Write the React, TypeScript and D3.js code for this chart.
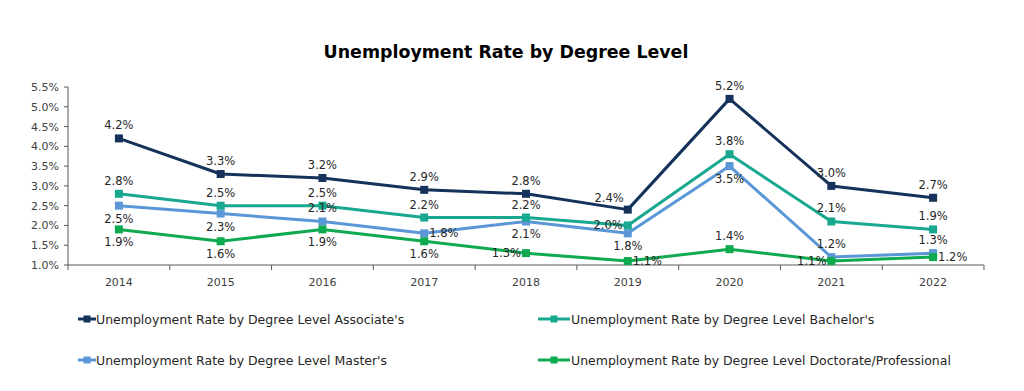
import React from "react";
import * as d3 from "d3";

const years = ["2014", "2015", "2016", "2017", "2018", "2019", "2020", "2021", "2022"];
const associates = [4.2, 3.3, 3.2, 2.9, 2.8, 2.4, 5.2, 3.0, 2.7];
const bachelors = [2.8, 2.5, 2.5, 2.2, 2.2, 2.0, 3.8, 2.1, 1.9];
const masters = [2.5, 2.3, 2.1, 1.8, 2.1, 1.8, 3.5, 1.2, 1.3];
const doctorate = [1.9, 1.6, 1.9, 1.6, 1.3, 1.1, 1.4, 1.1, 1.2];
const yTicks = [1.0, 1.5, 2.0, 2.5, 3.0, 3.5, 4.0, 4.5, 5.0, 5.5];
const seriesNames = [
  "Unemployment Rate by Degree Level Associate's",
  "Unemployment Rate by Degree Level Bachelor's",
  "Unemployment Rate by Degree Level Master's",
  "Unemployment Rate by Degree Level Doctorate/Professional",
];

// label placement (style): t=above, b=below, l=left, r=right, tl=above-left
const placeA = ["t", "t", "t", "t", "t", "tl", "t", "t", "t"];
const placeB = ["t", "t", "t", "t", "t", "l", "t", "t", "t"];
const placeM = ["b", "b", "t", "r", "b", "b", "b", "t", "t"];
const placeD = ["b", "b", "b", "b", "l", "r", "t", "l", "r"];

const colors = ["#14325A", "#17A88F", "#5B97D6", "#0FAA4F"];

const W = 1024, H = 391;
const m = { left: 68 };
const font = "'DejaVu Sans', sans-serif";

export default function App() {
  const x = d3.scaleBand().domain(years).range([m.left, 984]).paddingInner(0).paddingOuter(0);
  const y = d3.scaleLinear().domain([1.0, 5.5]).range([265, 87]);
  const line = d3.line<number>().x((_, i) => (x(years[i]) as number) + x.bandwidth() / 2).y((d) => y(d));

  const data = [associates, bachelors, masters, doctorate];
  const places = [placeA, placeB, placeM, placeD];
  const order = [2, 3, 1, 0];

  const labelPos = (cx: number, cy: number, p: string) => {
    if (p === "t") return { x: cx, y: cy - 9, anchor: "middle" };
    if (p === "tl") return { x: cx - 4, y: cy - 8, anchor: "end" };
    if (p === "b") return { x: cx, y: cy + 17, anchor: "middle" };
    if (p === "l") return { x: cx - 5, y: cy + 4, anchor: "end" };
    return { x: cx + 5, y: cy + 4, anchor: "start" };
  };

  return (
    <svg width={W} height={H} style={{ position: "absolute", left: 0, top: 0, background: "#fff" }}>
      <rect width={W} height={H} fill="#fff" />
      <text x={506} y={58} textAnchor="middle" fontFamily={font} fontWeight="bold" fontSize={17.4} fill="#000">
        Unemployment Rate by Degree Level
      </text>
      <line x1={m.left} x2={m.left} y1={y(5.5)} y2={y(1.0)} stroke="#595959" strokeWidth={1} />
      {yTicks.map((t) => (
        <g key={t}>
          <line x1={m.left - 4} x2={m.left} y1={y(t)} y2={y(t)} stroke="#595959" />
          <text x={m.left - 9} y={y(t) + 4} textAnchor="end" fontFamily={font} fontSize={11} fill="#404040">
            {t.toFixed(1) + "%"}
          </text>
        </g>
      ))}
      <line x1={m.left} x2={984} y1={y(1.0)} y2={y(1.0)} stroke="#595959" />
      {years.map((yr) => (
        <g key={yr}>
          <line x1={x(yr) as number} x2={x(yr) as number} y1={y(1.0)} y2={y(1.0) + 5} stroke="#595959" />
          <text x={(x(yr) as number) + x.bandwidth() / 2} y={286} textAnchor="middle" fontFamily={font} fontSize={11} fill="#404040">
            {yr}
          </text>
        </g>
      ))}
      <line x1={984} x2={984} y1={y(1.0)} y2={y(1.0) + 5} stroke="#595959" />
      {order.map((s) => (
        <g key={s}>
          <path d={line(data[s]) as string} fill="none" stroke={colors[s]} strokeWidth={3} strokeLinejoin="round" />
          {data[s].map((v, i) => {
            const cx = (x(years[i]) as number) + x.bandwidth() / 2;
            return <rect key={i} x={cx - 4} y={y(v) - 4} width={8} height={8} fill={colors[s]} />;
          })}
        </g>
      ))}
      {order.map((s) => (
        <g key={"l" + s}>
          {data[s].map((v, i) => {
            const cx = (x(years[i]) as number) + x.bandwidth() / 2;
            const p = labelPos(cx, y(v), places[s][i]);
            return (
              <text key={i} x={p.x} y={p.y} textAnchor={p.anchor as any} fontFamily={font} fontSize={11.5} fill="#262626">
                {v.toFixed(1) + "%"}
              </text>
            );
          })}
        </g>
      ))}
      {seriesNames.map((n, s) => {
        const left = s % 2 === 0;
        const lx = left ? 78 : 538;
        const lw = left ? 18 : 32;
        const ly = s < 2 ? 319 : 360;
        return (
          <g key={n}>
            <line x1={lx} x2={lx + lw} y1={ly} y2={ly} stroke={colors[s]} strokeWidth={3} />
            <rect x={lx + lw / 2 - 3.5} y={ly - 3.5} width={7} height={7} fill={colors[s]} />
            <text x={left ? 96 : 571} y={ly + 4.5} fontFamily={font} fontSize={12.5} fill="#262626">
              {n}
            </text>
          </g>
        );
      })}
    </svg>
  );
}
